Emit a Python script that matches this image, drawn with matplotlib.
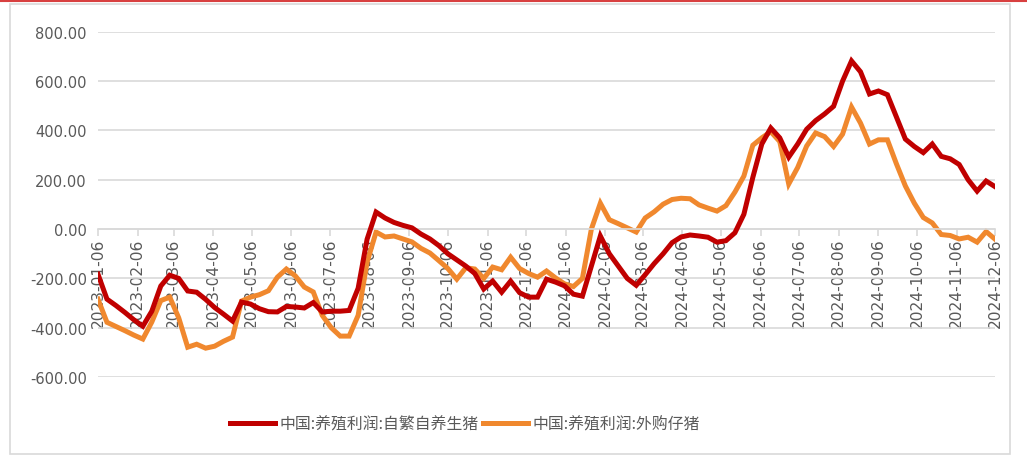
import pandas as pd
import matplotlib
matplotlib.use("Agg")
import matplotlib.pyplot as plt
import matplotlib.dates as mdates
from matplotlib.lines import Line2D
from matplotlib.patches import Rectangle
from matplotlib.ticker import FuncFormatter

plt.rcParams['font.family'] = ['DejaVu Sans', 'Noto Sans CJK SC']

# ---------- 数据 ----------
start_date = "2023-01-06"
n_weeks = 101

label_self = "中国:养殖利润:自繁自养生猪"
label_buy = "中国:养殖利润:外购仔猪"

profit_self = [
    -183, -284, -310, -338, -368, -394, -333, -231, -187, -200,
    -251, -256, -285, -318, -345, -373, -296, -304, -323, -335,
    -336, -314, -316, -320, -298, -336, -333, -333, -330, -240,
    -41, 69, 45, 27, 15, 5, -20, -40, -67, -100,
    -125, -150, -180, -243, -211, -256, -211, -258, -276, -276,
    -203, -215, -230, -264, -272, -150, -28, -100, -150, -200,
    -228, -185, -140, -100, -55, -32, -24, -28, -33, -53,
    -47, -15, 60, 210, 345, 410, 370, 292, 345, 405,
    440, 467, 498, 600, 682, 638, 548, 560, 545, 455,
    365, 335, 310, 345, 295, 285, 262, 200, 154, 195,
    172,
]

profit_buy = [
    -284, -378, -395, -412, -430, -446, -377, -290, -276, -360,
    -479, -467, -483, -475, -455, -438, -292, -276, -266, -250,
    -195, -162, -190, -235, -255, -350, -400, -434, -434, -350,
    -134, -12, -32, -28, -40, -52, -78, -97, -128, -160,
    -203, -157, -162, -200, -154, -165, -114, -160, -180, -195,
    -170, -198, -222, -233, -200, 0, 105, 38, 22, 5,
    -12, 45, 70, 101, 120, 125, 123, 98, 85, 73,
    95, 150, 215, 340, 370, 395, 355, 183, 250, 337,
    390, 375, 335, 385, 495, 430, 345, 362, 362, 265,
    175, 105, 47, 25, -22, -26, -40, -33, -53, -10,
    -41,
]

y_ticks = [-600, -400, -200, 0, 200, 400, 600, 800]

dates = pd.date_range(start_date, periods=n_weeks, freq="7D")

# ---------- 图 ----------
fig = plt.figure(figsize=(10.27, 4.56), dpi=100)
ax = fig.add_axes([0.0954, 0.171, 0.8735, 0.757])

gray = "#595959"
ax.plot(dates, profit_self, color="#C00000", lw=3.6, label=label_self,
        solid_joinstyle="miter", zorder=3)
ax.plot(dates, profit_buy, color="#F0882E", lw=3.6, label=label_buy,
        solid_joinstyle="miter", zorder=2)

ax.set_ylim(y_ticks[0], y_ticks[-1])
ax.set_yticks(y_ticks)
ax.yaxis.set_major_formatter(FuncFormatter(lambda v, p: f"{v:.2f}"))
ax.set_xlim(dates[0], dates[-1])
ax.xaxis.set_major_locator(mdates.MonthLocator(bymonthday=6))
ax.xaxis.set_major_formatter(mdates.DateFormatter("%Y-%m-%d"))

ax.grid(axis="y", color="#d9d9d9", lw=1.2, zorder=0)
for s in ["left", "right", "top"]:
    ax.spines[s].set_visible(False)
ax.spines["bottom"].set_position(("data", 0))
ax.spines["bottom"].set_color("#d9d9d9")
ax.spines["bottom"].set_linewidth(1.2)

ax.tick_params(axis="y", length=0, pad=8, labelsize=10.5, labelcolor=gray)
ax.tick_params(axis="x", length=5, width=1.2, color="#d9d9d9", pad=1,
               labelsize=11.2, labelcolor=gray, labelrotation=90)

leg = fig.legend(loc="center", bbox_to_anchor=(0.453, 0.068), ncol=2,
                 frameon=False, handlelength=2.8, handletextpad=0.3,
                 columnspacing=0.3, prop={"family": "Noto Sans CJK SC", "size": 11.4})
for t in leg.get_texts():
    t.set_color(gray)

# 外框和顶部红线
fig.add_artist(Rectangle((0.0097, 0.002), 0.974, 0.987, transform=fig.transFigure,
                         fill=False, edgecolor="#d9d9d9", lw=1.2))
fig.add_artist(Line2D([0, 1], [0.996, 0.996], transform=fig.transFigure,
                      color="#D84040", lw=1.5))

fig.savefig("out.png", dpi=100)
